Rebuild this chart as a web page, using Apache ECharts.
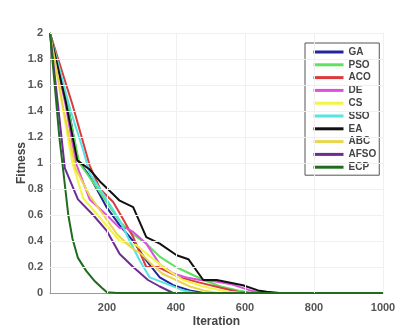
<!DOCTYPE html>
<html>
<head>
<meta charset="utf-8">
<script src="https://cdn.jsdelivr.net/npm/echarts@6/dist/echarts.min.js"></script>
<style>
  html, body { margin: 0; padding: 0; background: #fff; }
  #chart { width: 410px; height: 333px; }
</style>
</head>
<body>
<div id="chart"></div>
<script>
// Convergence curves: [iteration, fitness] pairs per algorithm
const GA   = [[35,2],[90,1.4],[116,1.02],[150,0.9],[199,0.66],[237,0.52],[276,0.4],[314,0.25],[353,0.12],[392,0.06],[440,0.02],[480,0]];
const PSO  = [[35,2],[85,1.45],[120,1.0],[160,0.85],[199,0.7],[237,0.55],[276,0.45],[314,0.38],[353,0.28],[382,0.23],[400,0.2],[440,0.15],[480,0.1],[530,0.05],[580,0.02],[620,0],[770,0]];
const ACO  = [[35,2],[100,1.45],[150,0.98],[180,0.8],[218,0.7],[240,0.6],[276,0.43],[314,0.2],[348,0.2],[411,0.12],[469,0.08],[530,0.04],[580,0.01],[620,0]];
const DE   = [[35,2],[80,1.45],[110,1.0],[150,0.72],[199,0.6],[237,0.5],[256,0.5],[276,0.47],[314,0.38],[353,0.22],[392,0.15],[430,0.12],[470,0.1],[510,0.09],[557,0.07],[615,0.02],[650,0]];
const CS   = [[35,2],[70,1.45],[100,1.0],[131,0.73],[189,0.55],[237,0.4],[260,0.38],[285,0.37],[330,0.27],[373,0.18],[421,0.1],[479,0.05],[550,0.01],[600,0]];
const SSO  = [[35,2],[95,1.4],[131,1.1],[150,0.92],[199,0.72],[237,0.56],[266,0.4],[295,0.25],[324,0.12],[373,0.07],[421,0.02],[460,0]];
const EA   = [[35,2],[80,1.48],[114,1.02],[150,0.95],[179,0.86],[218,0.76],[237,0.71],[276,0.66],[314,0.43],[353,0.38],[402,0.29],[436,0.26],[479,0.1],[518,0.1],[594,0.06],[638,0.02],[663,0.01],[700,0]];
const ABC  = [[35,2],[75,1.4],[110,0.95],[150,0.75],[190,0.6],[230,0.45],[270,0.35],[300,0.3],[330,0.22],[360,0.15],[400,0.1],[440,0.05],[480,0.02],[520,0]];
const AFSO = [[35,2],[58,1.45],[78,0.96],[116,0.72],[160,0.6],[199,0.48],[237,0.3],[276,0.2],[319,0.1],[353,0.05],[392,0]];
const ECP  = [[35,2],[52,1.5],[62,1.2],[73,0.95],[88,0.6],[100,0.42],[116,0.27],[140,0.17],[165,0.09],[185,0.04],[200,0.005],[230,0],[1000,0]];

const seriesNames = ['GA','PSO','ACO','DE','CS','SSO','EA','ABC','AFSO','ECP'];
const seriesData  = [GA, PSO, ACO, DE, CS, SSO, EA, ABC, AFSO, ECP];
const seriesColors = ['#23239c','#5fe05f','#dd3b3b','#dd4fdd','#f4f444','#55e3e3','#111111','#ead64c','#6c2c94','#1f6b1f'];

// Axis ticks
const xTicks = [200, 400, 600, 800, 1000];
const yTicks = [0, 0.2, 0.4, 0.6, 0.8, 1, 1.2, 1.4, 1.6, 1.8, 2];

const fontFamily = 'Liberation Sans, Arial, sans-serif';
const tickFont = { color: '#555', fontFamily, fontWeight: 'bold', fontSize: 11 };
const nameFont = { color: '#444', fontFamily, fontWeight: 'bold', fontSize: 12 };

const series = seriesNames.map((name, i) => ({
  name,
  type: 'line',
  data: seriesData[i],
  showSymbol: false,
  symbol: 'none',
  lineStyle: { width: 2, color: seriesColors[i] },
  itemStyle: { color: seriesColors[i] },
  animation: false
}));

// Faint grid lines drawn underneath the curves
series.unshift({
  type: 'line',
  data: [],
  silent: true,
  z: 1,
  markLine: {
    silent: true,
    symbol: 'none',
    label: { show: false },
    lineStyle: { color: '#f0f0f0', width: 1, type: 'solid' },
    data: xTicks.map(v => ({ xAxis: v })).concat(yTicks.filter(v => v > 0).map(v => ({ yAxis: v })))
  },
  animation: false
});

const chart = echarts.init(document.getElementById('chart'));
chart.setOption({
  backgroundColor: '#fff',
  animation: false,
  grid: { left: 50, right: 27, top: 33, bottom: 37 },
  xAxis: {
    type: 'value',
    min: 35,
    max: 1000,
    name: 'Iteration',
    nameLocation: 'middle',
    nameGap: 23,
    nameMoveOverlap: false,
    nameTextStyle: nameFont,
    axisLine: { lineStyle: { color: '#999', width: 1 } },
    axisTick: { inside: true, length: 3, customValues: xTicks, lineStyle: { color: '#999' } },
    axisLabel: Object.assign({ customValues: xTicks, margin: 9, formatter: v => String(v) }, tickFont),
    splitLine: { show: false }
  },
  yAxis: {
    type: 'value',
    min: 0,
    max: 2,
    interval: 0.2,
    name: 'Fitness',
    nameLocation: 'middle',
    nameGap: 22,
    nameMoveOverlap: false,
    nameTextStyle: nameFont,
    axisLine: { show: true, lineStyle: { color: '#999', width: 1 } },
    axisTick: { show: true, inside: true, length: 3, lineStyle: { color: '#999' } },
    axisLabel: Object.assign({ margin: 7 }, tickFont),
    splitLine: { show: false }
  },
  legend: {
    data: seriesNames,
    orient: 'vertical',
    left: 305,
    top: 43,
    padding: [4, 3, 3, 7],
    itemGap: 2.8,
    itemWidth: 30,
    itemHeight: 10,
    itemStyle: { opacity: 0 },
    lineStyle: { width: 3 },
    borderColor: '#555',
    borderWidth: 1,
    backgroundColor: '#fff',
    textStyle: { color: '#444', fontFamily, fontWeight: 'bold', fontSize: 10, lineHeight: 10 }
  },
  series
});
</script>
</body>
</html>
